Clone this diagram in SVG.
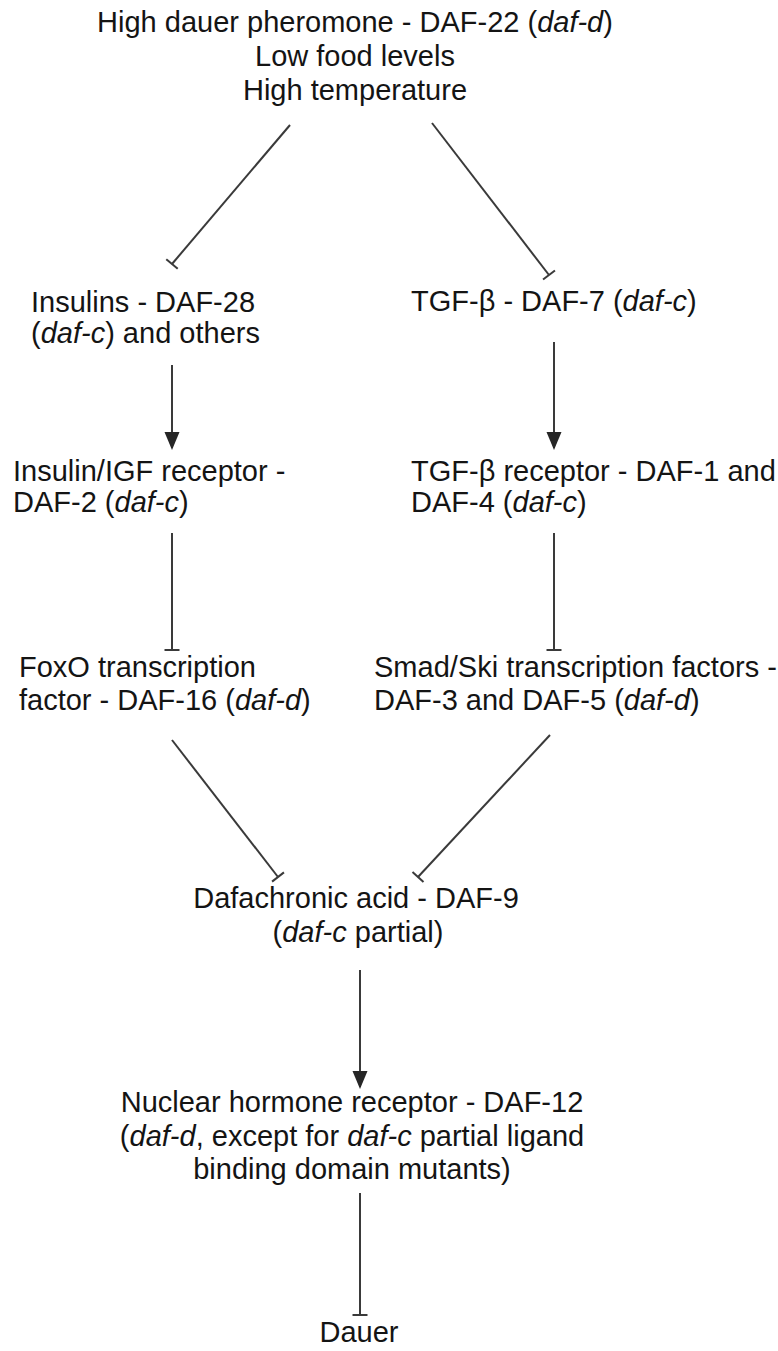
<svg xmlns="http://www.w3.org/2000/svg" width="778" height="1351" viewBox="0 0 778 1351">
<style>
text{font-family:"Liberation Sans",Arial,sans-serif;font-size:29px;fill:#141414}
.c{text-anchor:middle}
.i{font-style:italic}
.ln{stroke:#3a3a3a;stroke-width:2;fill:none}
.act{marker-end:url(#arrow)}
.inh{marker-end:url(#tbar)}
</style>
<defs>
<marker id="arrow" viewBox="-20 -9 22 18" refX="-2" refY="0" markerWidth="22" markerHeight="18" markerUnits="userSpaceOnUse" orient="auto"><path d="M0,0 L-18,-7.5 L-18,7.5 Z" fill="#262626"/></marker>
<marker id="tbar" viewBox="-2 -9 4 18" refX="0" refY="0" markerWidth="4" markerHeight="18" markerUnits="userSpaceOnUse" orient="auto"><path d="M0,-7.5 L0,7.5" stroke="#3a3a3a" stroke-width="2"/></marker>
</defs>
<rect width="778" height="1351" fill="#ffffff"/>
<g id="connectors">
<line class="ln inh" x1="290" y1="125" x2="172" y2="264"/>
<line class="ln inh" x1="432" y1="123" x2="549" y2="275"/>
<line class="ln act" x1="172" y1="365" x2="172" y2="448"/>
<line class="ln act" x1="554" y1="342" x2="554" y2="448"/>
<line class="ln inh" x1="172" y1="533" x2="172" y2="650"/>
<line class="ln inh" x1="554" y1="533" x2="554" y2="650"/>
<line class="ln inh" x1="172" y1="740" x2="278" y2="877"/>
<line class="ln inh" x1="550" y1="735" x2="418" y2="877"/>
<line class="ln act" x1="360" y1="970" x2="360" y2="1087"/>
<line class="ln inh" x1="360" y1="1193" x2="360" y2="1315"/>
</g>
<g id="stimuli">
<text class="c" x="355" y="32">High dauer pheromone - DAF-22 (<tspan class="i">daf-d</tspan>)</text>
<text class="c" x="355" y="66">Low food levels</text>
<text class="c" x="355" y="100">High temperature</text>
</g>
<g id="insulins">
<text x="31" y="312">Insulins - DAF-28</text>
<text x="31" y="343">(<tspan class="i">daf-c</tspan>) and others</text>
</g>
<g id="tgfb">
<text x="411" y="311">TGF-β - DAF-7 (<tspan class="i">daf-c</tspan>)</text>
</g>
<g id="daf2">
<text x="13" y="481">Insulin/IGF receptor -</text>
<text x="13" y="512">DAF-2 (<tspan class="i">daf-c</tspan>)</text>
</g>
<g id="tgfbr">
<text x="411" y="481">TGF-β receptor - DAF-1 and</text>
<text x="411" y="512">DAF-4 (<tspan class="i">daf-c</tspan>)</text>
</g>
<g id="daf16">
<text x="19" y="677">FoxO transcription</text>
<text x="19" y="710">factor - DAF-16 (<tspan class="i">daf-d</tspan>)</text>
</g>
<g id="smad">
<text x="374" y="677">Smad/Ski transcription factors -</text>
<text x="374" y="710">DAF-3 and DAF-5 (<tspan class="i">daf-d</tspan>)</text>
</g>
<g id="daf9">
<text class="c" x="356" y="908">Dafachronic acid - DAF-9</text>
<text class="c" x="358" y="942">(<tspan class="i">daf-c</tspan> partial)</text>
</g>
<g id="daf12">
<text class="c" x="352" y="1112">Nuclear hormone receptor - DAF-12</text>
<text class="c" x="352" y="1146">(<tspan class="i">daf-d</tspan>, except for <tspan class="i">daf-c</tspan> partial ligand</text>
<text class="c" x="352" y="1179">binding domain mutants)</text>
</g>
<g id="dauer">
<text class="c" x="359" y="1342">Dauer</text>
</g>
</svg>
